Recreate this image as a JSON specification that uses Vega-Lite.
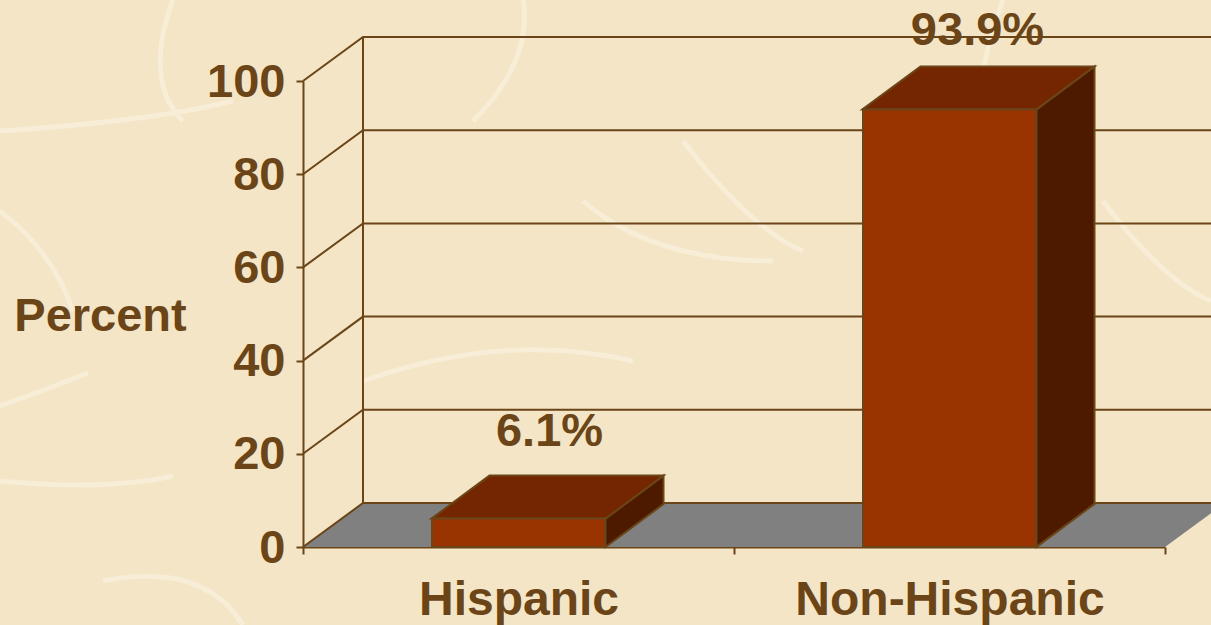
{
"$schema":"https://vega.github.io/schema/vega-lite/v6.json",
"width":862,"height":466,
"autosize":{"type":"none"},
"padding":{"left":303,"top":81,"right":46,"bottom":78},
"background":"#F3E5C6",
"config":{"view":{"stroke":null},"font":"Liberation Sans"},
"resolve":{"axis":{"x":"independent","y":"independent"}},
"datasets":{
"bars":[{"group":"Hispanic","percent":6.1,"label":"6.1%"},{"group":"Non-Hispanic","percent":93.9,"label":"93.9%"}],
"ticks":[{"tick":0},{"tick":20},{"tick":40},{"tick":60},{"tick":80},{"tick":100}]
},
"layer":[
{"data":{"values":[{"layer":"paper fibres"}]},
"mark":{"type":"point","size":4,"filled":false,"stroke":"#FFFBF0","strokeWidth":5,"opacity":0.4,"fill":null,
"shape":"M-303,325 Q-260,310 -215,292 M-303,400 Q-200,410 -130,395 M-303,50 Q-150,40 -70,20 M220,-81 Q230,-20 170,40 M380,60 Q450,150 500,170 M700,-81 Q640,80 720,200 M-130,-81 Q-160,0 -120,40 M280,120 Q350,180 470,180 M-303,130 Q-250,170 -230,230 M60,300 Q200,250 330,280 M800,120 Q860,200 908,220 M-200,500 Q-100,480 -60,544"},
"encoding":{"x":{"value":0},"y":{"value":0}}},
{"data":{"values":[{"tick":0}]},
"mark":{"type":"point","size":4,"filled":true,"fill":"#808080","stroke":null,"opacity":1,"shape":"M0,0 L60,-44 L922,-44 L862,0 Z"},
"encoding":{"x":{"value":0},"y":{"field":"tick","type":"quantitative","scale":{"domain":[0,100],"nice":false},"axis":null}}},
{"data":{"name":"ticks"},
"mark":{"type":"point","size":4,"filled":false,"fill":null,"stroke":"#6B4518","strokeWidth":2,"opacity":1,"shape":"M0,0 L60,-44 L922,-44"},
"encoding":{"x":{"value":0},"y":{"field":"tick","type":"quantitative","scale":{"domain":[0,100],"nice":false},"axis":null}}},
{"data":{"values":[{"tick":0}]},
"mark":{"type":"point","size":4,"filled":false,"fill":null,"stroke":"#6B4518","strokeWidth":2,"opacity":1,"shape":"M60,-44 L60,-510"},
"encoding":{"x":{"value":0},"y":{"field":"tick","type":"quantitative","scale":{"domain":[0,100],"nice":false},"axis":null}}},
{"data":{"name":"bars"},
"mark":{"type":"point","size":4,"filled":true,"fill":"#4D1A00","stroke":"#6B4518","strokeWidth":2,"opacity":1},
"encoding":{
"x":{"field":"group","type":"nominal","scale":{"domain":["Hispanic","Non-Hispanic"],"paddingInner":0,"paddingOuter":0},"axis":null},
"y":{"field":"percent","type":"quantitative","scale":{"domain":[0,100],"nice":false},"axis":null},
"shape":{"field":"group","type":"nominal","legend":null,"scale":{"domain":["Hispanic","Non-Hispanic"],"range":["M87,0 L145,-43 L145,-14.5 L87,28.5 Z","M87,0 L145,-43 L145,394.5 L87,437.5 Z"]}}}},
{"data":{"name":"bars"},
"mark":{"type":"point","size":4,"filled":true,"fill":"#732600","stroke":"#6B4518","strokeWidth":2,"opacity":1,"shape":"M-87,0 L-29,-43 L145,-43 L87,0 Z"},
"encoding":{
"x":{"field":"group","type":"nominal","scale":{"domain":["Hispanic","Non-Hispanic"],"paddingInner":0,"paddingOuter":0},"axis":null},
"y":{"field":"percent","type":"quantitative","scale":{"domain":[0,100],"nice":false},"axis":null}}},
{"data":{"name":"bars"},
"mark":{"type":"bar","width":173,"fill":"#993300","stroke":"#6B4518","strokeWidth":2},
"encoding":{
"x":{"field":"group","type":"nominal","scale":{"domain":["Hispanic","Non-Hispanic"],"paddingInner":0,"paddingOuter":0},
"axis":{"title":null,"labelAngle":0,"labelFontSize":48,"labelFontWeight":"bold","labelColor":"#6B4518","labelFont":"Liberation Sans","labelLimit":600,"tickBand":"extent","tickColor":"#6B4518","tickWidth":2,"tickSize":7,"domainColor":"#6B4518","domainWidth":2,"labelPadding":22,"labelBaseline":"top"}},
"y":{"field":"percent","type":"quantitative","scale":{"domain":[0,100],"nice":false},
"axis":{"values":[0,20,40,60,80,100],"title":"Percent","titleAngle":0,"titleX":-203,"titleY":235,"titleAlign":"center","titleBaseline":"middle","titleFontSize":47,"titleFontWeight":"bold","titleColor":"#6B4518","titleFont":"Liberation Sans","labelFontSize":47,"labelFontWeight":"bold","labelColor":"#6B4518","labelFont":"Liberation Sans","labelOffset":1,"grid":false,"tickColor":"#6B4518","tickWidth":2,"tickSize":7,"domainColor":"#6B4518","domainWidth":2,"labelPadding":11}}}},
{"data":{"name":"bars"},
"transform":[{"filter":"datum.group === 'Hispanic'"}],
"mark":{"type":"text","fontSize":47,"fontWeight":"bold","font":"Liberation Sans","fill":"#6B4518","baseline":"alphabetic","xOffset":31,"yOffset":-73},
"encoding":{
"x":{"field":"group","type":"nominal","scale":{"domain":["Hispanic","Non-Hispanic"],"paddingInner":0,"paddingOuter":0},"axis":null},
"y":{"field":"percent","type":"quantitative","scale":{"domain":[0,100],"nice":false},"axis":null},
"text":{"field":"label","type":"nominal"}}},
{"data":{"name":"bars"},
"transform":[{"filter":"datum.group === 'Non-Hispanic'"}],
"mark":{"type":"text","fontSize":47,"fontWeight":"bold","font":"Liberation Sans","fill":"#6B4518","baseline":"alphabetic","xOffset":28,"yOffset":-64},
"encoding":{
"x":{"field":"group","type":"nominal","scale":{"domain":["Hispanic","Non-Hispanic"],"paddingInner":0,"paddingOuter":0},"axis":null},
"y":{"field":"percent","type":"quantitative","scale":{"domain":[0,100],"nice":false},"axis":null},
"text":{"field":"label","type":"nominal"}}}
]
}
